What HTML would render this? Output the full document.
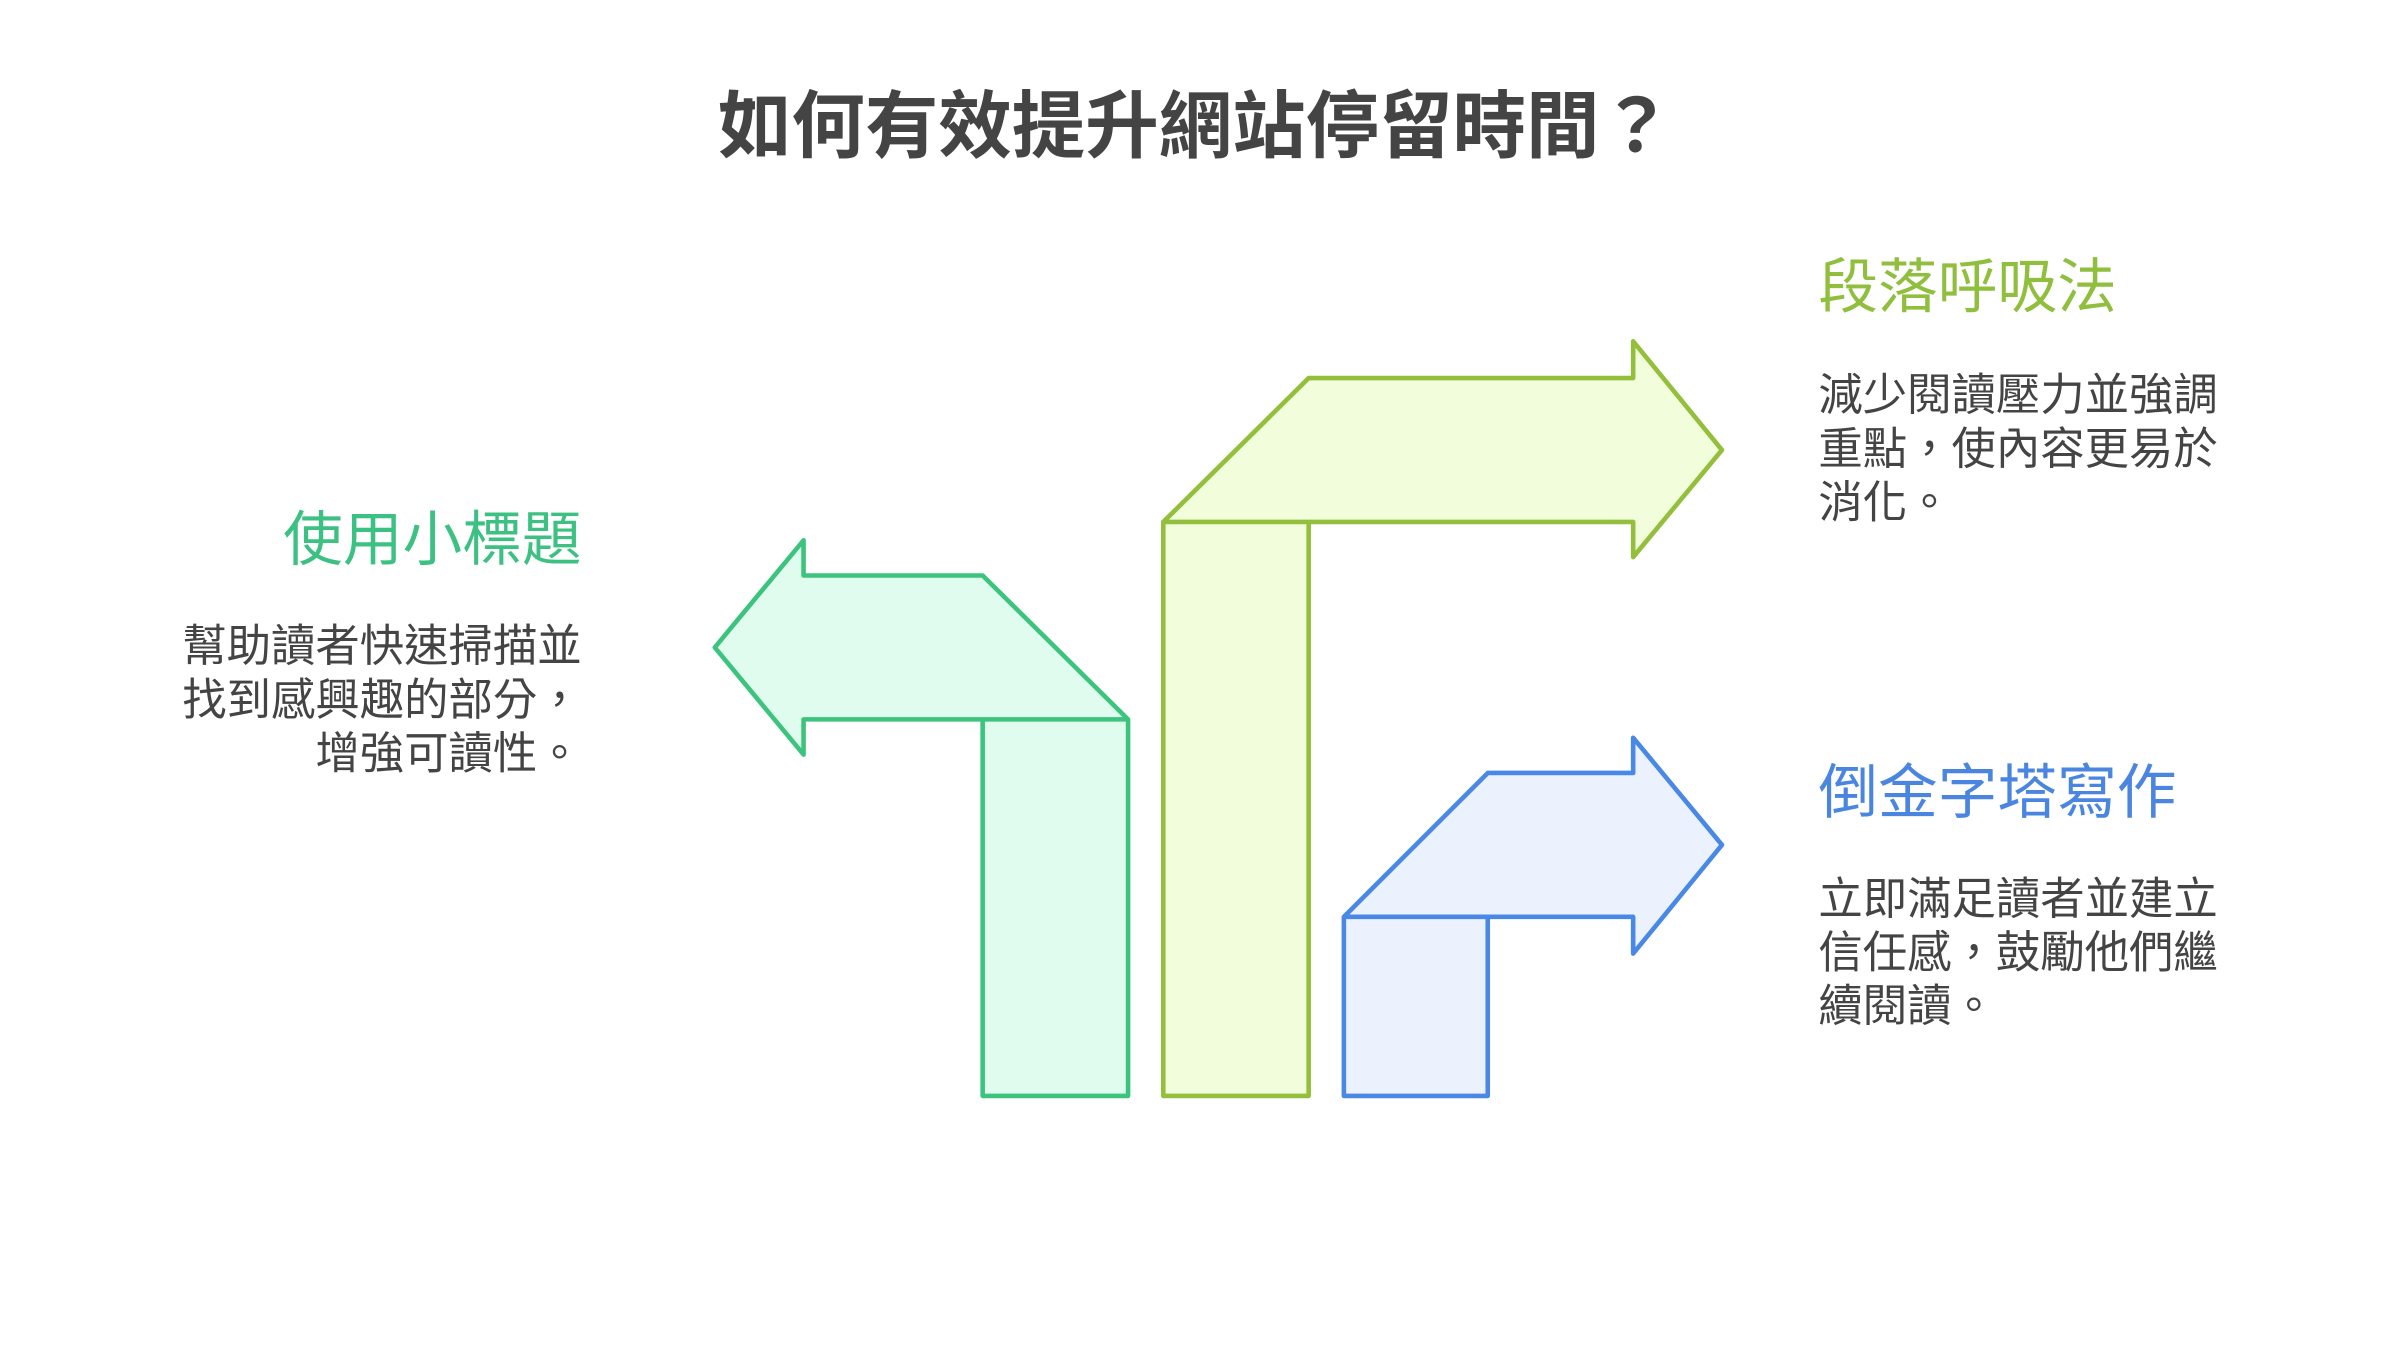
<!DOCTYPE html>
<html><head><meta charset="utf-8"><style>html,body{margin:0;padding:0;background:#fff;}svg{display:block}</style></head>
<body>
<svg width="2400" height="1350" viewBox="0 0 1568 882" xmlns="http://www.w3.org/2000/svg" font-family="'Liberation Sans','Noto Sans CJK TC',sans-serif">
<rect width="1568" height="882" fill="#fff"/>
<g stroke-width="3" stroke-linejoin="round">
<polygon points="642,716 737,716 737,470 642,376 525,376 525,353 467,423 525,493 525,470 642,470" fill="#e0fcee" stroke="#3cc47f"/>
<line x1="642" y1="470" x2="737" y2="470" stroke="#3cc47f"/>
<polygon points="760,716 855,716 855,341 1067,341 1067,364 1125,294 1067,223 1067,247 855,247 760,341" fill="#f1fddb" stroke="#93bf3c"/>
<line x1="760" y1="341" x2="855" y2="341" stroke="#93bf3c"/>
<polygon points="878,716 972,716 972,599 1067,599 1067,623 1125,552 1067,482 1067,505 972,505 878,599" fill="#ebf2fe" stroke="#4a88e5"/>
<line x1="878" y1="599" x2="972" y2="599" stroke="#4a88e5"/>
</g>
<text x="781" y="99" text-anchor="middle" font-size="48" font-weight="bold" fill="#444">如何有效提升網站停留時間？</text>
<text x="1188" y="201" font-size="39" fill="#90bf3e">段落呼吸法</text>
<g font-size="29" fill="#444">
<text x="1188" y="268">減少閱讀壓力並強調</text>
<text x="1188" y="303">重點，使內容更易於</text>
<text x="1188" y="338">消化。</text>
</g>
<text x="380" y="366" text-anchor="end" font-size="39" fill="#3cc182">使用小標題</text>
<g font-size="29" fill="#444" text-anchor="end">
<text x="380" y="432">幫助讀者快速掃描並</text>
<text x="380" y="467">找到感興趣的部分，</text>
<text x="380" y="502">增強可讀性。</text>
</g>
<text x="1188" y="531" font-size="39" fill="#4a86e0">倒金字塔寫作</text>
<g font-size="29" fill="#444">
<text x="1188" y="597">立即滿足讀者並建立</text>
<text x="1188" y="632">信任感，鼓勵他們繼</text>
<text x="1188" y="667">續閱讀。</text>
</g>
</svg>
</body></html>
